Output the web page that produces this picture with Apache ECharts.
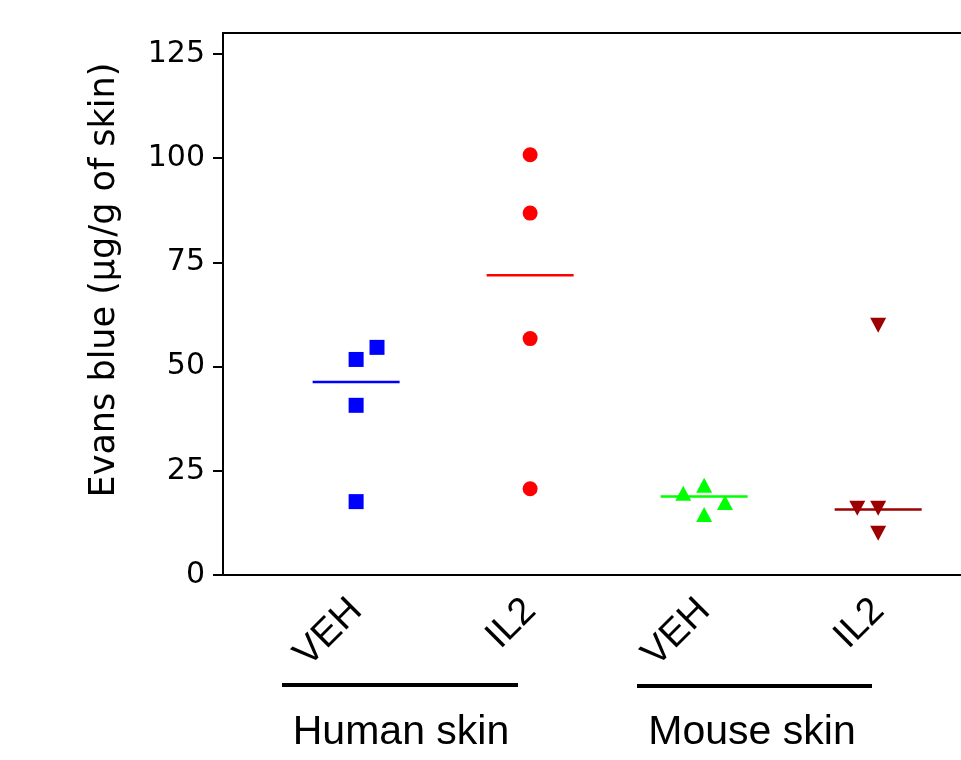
<!DOCTYPE html>
<html lang="en">
<head>
  <meta charset="UTF-8">
  <title>Evans blue</title>
  <script src="https://cdn.jsdelivr.net/npm/echarts@6/dist/echarts.min.js"></script>
  <style>
    html, body { margin: 0; padding: 0; background: #fff; }
  </style>
</head>
<body>
  <div id="app" style="width: 961px; height: 760px;"></div>
  <script>
    // categories along x (1..4), two groups of two treatments
    var treatments = ['VEH', 'IL2', 'VEH', 'IL2']
    var groupNames = ['Human skin', 'Mouse skin']
    var yTicks = [0, 25, 50, 75, 100, 125]

    // values, plus horizontal jitter of each point
    var humanVeh = [54.6, 51.7, 40.7, 17.6]
    var humanVehJitter = [0.12, 0, 0, 0]
    var humanIl2 = [100.8, 86.8, 56.7, 20.7]
    var humanIl2Jitter = [0, 0, 0, 0]
    var mouseVeh = [19.6, 21.5, 17.4, 14.5]
    var mouseVehJitter = [-0.12, 0, 0.12, 0]
    var mouseIl2 = [59.9, 16.0, 16.0, 10.0]
    var mouseIl2Jitter = [0, -0.12, 0, 0]
    // median bars
    var medians = [46.3, 71.9, 18.8, 15.7]

    var colors = ['#0000FF', '#FF0000', '#00FF00', '#9C0000']

    function points(pos, vals, jit) {
      return vals.map(function (v, i) { return [pos + jit[i], v] })
    }
    function medianLine(pos, m) {
      return [[pos - 0.25, m], [pos + 0.25, m]]
    }

    var xMin = 0.235, xMax = 4.476

    var mCharts = echarts.init(document.querySelector('#app'))
    var option = {
      animation: false,
      grid: { left: 223, top: 33, right: 0, bottom: 185 },
      xAxis: [
        {
          type: 'value',
          min: xMin,
          max: xMax,
          splitLine: { show: false },
          axisTick: { show: false },
          axisLine: { lineStyle: { color: '#000', width: 2 } },
          axisLabel: {
            customValues: [1, 2, 3, 4],
            formatter: function (v) { return treatments[Math.round(v) - 1] },
            rotate: 45,
            margin: 30,
            color: '#000',
            fontFamily: 'Liberation Sans',
            fontSize: 38
          }
        },
        {
          // top frame line only
          type: 'value', position: 'top', min: xMin, max: xMax,
          splitLine: { show: false }, axisTick: { show: false }, axisLabel: { show: false },
          axisLine: { show: true, lineStyle: { color: '#000', width: 2 } }
        }
      ],
      yAxis: {
        type: 'value',
        min: 0,
        max: 130,
        interval: 25,
        splitLine: { show: false },
        axisLine: { show: true, lineStyle: { color: '#000', width: 2 } },
        axisTick: { show: true, customValues: yTicks, length: 10, lineStyle: { color: '#000', width: 2 } },
        axisLabel: {
          customValues: yTicks,
          margin: 18,
          color: '#000',
          fontFamily: 'DejaVu Sans',
          fontSize: 30
        }
      },
      graphic: [
        {
          type: 'text', x: 105, y: 280, rotation: Math.PI / 2,
          style: {
            text: 'Evans blue (µg/g of skin)', fill: '#000',
            font: '35px "DejaVu Sans"', align: 'center', verticalAlign: 'middle'
          }
        },
        { type: 'rect', shape: { x: 282, y: 683, width: 236, height: 4 }, style: { fill: '#000' } },
        { type: 'rect', shape: { x: 637, y: 684, width: 235, height: 4 }, style: { fill: '#000' } },
        {
          type: 'text', x: 401, y: 733,
          style: { text: groupNames[0], fill: '#000', font: '41px "Liberation Sans"', align: 'center', verticalAlign: 'middle' }
        },
        {
          type: 'text', x: 752, y: 733,
          style: { text: groupNames[1], fill: '#000', font: '41px "Liberation Sans"', align: 'center', verticalAlign: 'middle' }
        }
      ],
      series: [
        { type: 'line', data: medianLine(1, medians[0]), symbol: 'none', z: 1, lineStyle: { color: colors[0], width: 2.5 } },
        { type: 'line', data: medianLine(2, medians[1]), symbol: 'none', z: 1, lineStyle: { color: colors[1], width: 2.5 } },
        { type: 'line', data: medianLine(3, medians[2]), symbol: 'none', z: 1, lineStyle: { color: colors[2], width: 2.5 } },
        { type: 'line', data: medianLine(4, medians[3]), symbol: 'none', z: 1, lineStyle: { color: colors[3], width: 2.5 } },
        { type: 'scatter', data: points(1, humanVeh, humanVehJitter), symbol: 'rect', symbolSize: 15, z: 3, itemStyle: { color: colors[0], opacity: 1 } },
        { type: 'scatter', data: points(2, humanIl2, humanIl2Jitter), symbol: 'circle', symbolSize: 15, z: 3, itemStyle: { color: colors[1], opacity: 1 } },
        { type: 'scatter', data: points(3, mouseVeh, mouseVehJitter), symbol: 'triangle', symbolSize: [16, 15], z: 3, itemStyle: { color: colors[2], opacity: 1 } },
        { type: 'scatter', data: points(4, mouseIl2, mouseIl2Jitter), symbol: 'triangle', symbolRotate: 180, symbolSize: [16, 15], z: 3, itemStyle: { color: colors[3], opacity: 1 } }
      ]
    }
    mCharts.setOption(option)
  </script>
</body>
</html>
